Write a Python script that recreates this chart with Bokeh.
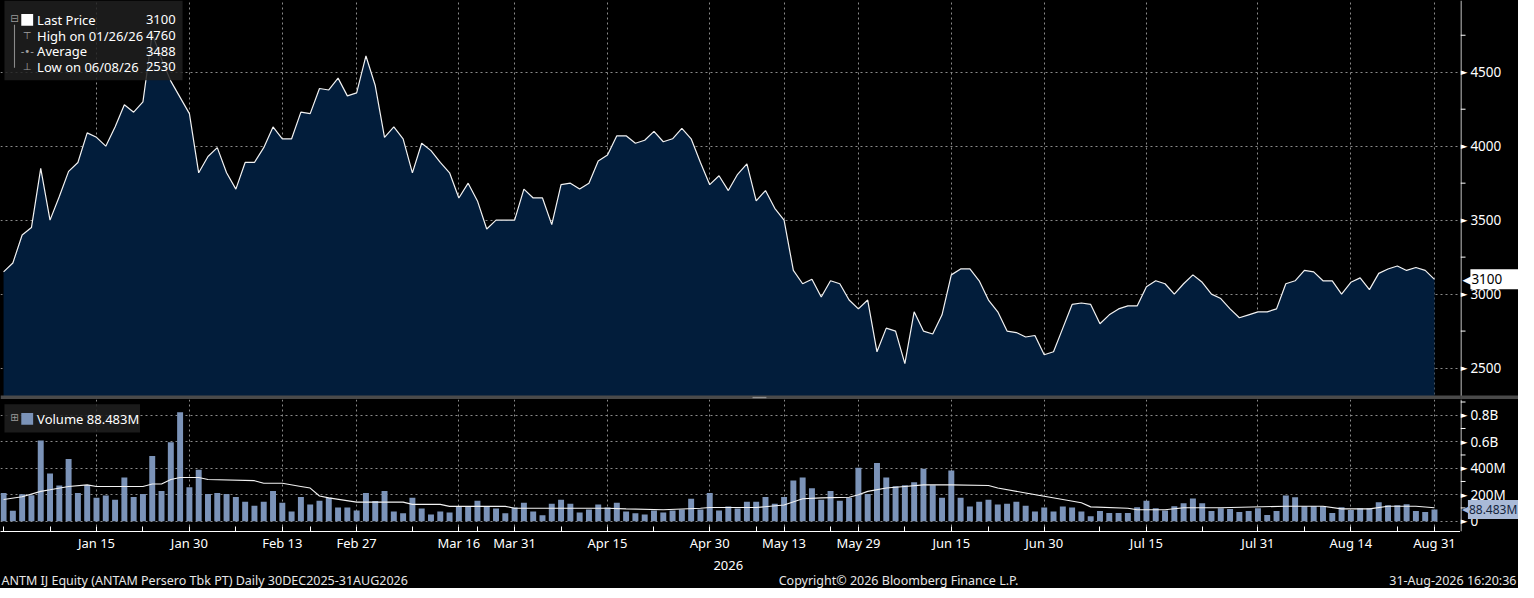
from bokeh.plotting import figure
from bokeh.layouts import column, row
from bokeh.models import Range1d, FixedTicker, Grid, Label, BoxAnnotation, LinearAxis, Span
from bokeh.core.properties import value
from bokeh.embed import file_html
from bokeh.resources import INLINE

# ---------------- data ----------------
price = [3150, 3210, 3400, 3450, 3850, 3500, 3660, 3830, 3890, 4090,
         4060, 4000, 4130, 4280, 4230, 4300, 4760, 4590, 4440, 4330,
         4220, 3820, 3930, 3990, 3820, 3710, 3890, 3890, 3990, 4130,
         4050, 4050, 4230, 4220, 4390, 4380, 4460, 4340, 4360, 4610,
         4410, 4060, 4130, 4050, 3820, 4020, 3970, 3890, 3820, 3650,
         3750, 3630, 3440, 3500, 3500, 3500, 3710, 3650, 3650, 3470,
         3740, 3750, 3710, 3750, 3900, 3940, 4070, 4070, 4020, 4040,
         4100, 4030, 4050, 4120, 4050, 3890, 3740, 3800, 3700, 3810,
         3880, 3630, 3700, 3580, 3500, 3160, 3070, 3100, 2980, 3090,
         3070, 2960, 2900, 2960, 2610, 2770, 2750, 2530, 2880, 2750,
         2730, 2860, 3130, 3170, 3170, 3090, 2960, 2880, 2750, 2740,
         2710, 2720, 2590, 2610, 2770, 2930, 2940, 2930, 2800, 2860,
         2900, 2920, 2920, 3050, 3090, 3070, 3000, 3070, 3130, 3080,
         3000, 2970, 2900, 2840, 2860, 2880, 2880, 2900, 3070, 3090,
         3160, 3150, 3090, 3090, 3000, 3080, 3110, 3030, 3140, 3170,
         3190, 3160, 3180, 3160, 3100]

volume_m = [213, 78, 203, 196, 609, 360, 269, 470, 213, 274,
            176, 193, 161, 330, 183, 205, 492, 227, 597, 822,
            257, 389, 205, 213, 205, 183, 147, 117, 147, 227,
            139, 73, 183, 125, 154, 176, 103, 103, 81, 213,
            152, 227, 73, 59, 176, 95, 51, 73, 66, 115,
            115, 154, 115, 95, 59, 103, 139, 73, 44, 132,
            161, 132, 66, 88, 125, 103, 139, 73, 59, 51,
            81, 66, 81, 88, 169, 88, 213, 81, 110, 95,
            147, 147, 183, 132, 183, 308, 330, 249, 161, 227,
            154, 176, 404, 205, 440, 330, 264, 271, 294, 396,
            271, 176, 382, 176, 110, 147, 161, 125, 132, 147,
            117, 73, 103, 73, 110, 103, 73, 37, 76, 61,
            61, 61, 106, 155, 98, 81, 113, 135, 172, 135,
            76, 98, 91, 69, 76, 98, 47, 76, 194, 180,
            113, 113, 113, 61, 106, 84, 98, 98, 143, 121,
            121, 128, 76, 69, 88.483]

vol_avg_idx = [0, 2, 4, 5, 7, 9, 10, 15, 16, 17, 18, 19, 21, 22, 27, 28, 30, 32,
               33, 34, 35, 38, 43, 44, 47, 48, 54, 55, 65, 67, 71, 75, 76, 81,
               84, 86, 88, 91, 92, 93, 95, 97, 99, 102, 106, 107, 110, 112, 116,
               117, 121, 122, 125, 127, 131, 138, 142, 144, 147, 149, 152, 154]
vol_avg_m = [164, 185, 225, 237, 262, 274, 262, 262, 281, 281, 315, 330, 330, 315,
             306, 286, 286, 262, 250, 190, 176, 144, 144, 127, 127, 112, 112, 98,
             98, 93, 86, 98, 103, 103, 122, 169, 176, 181, 200, 225, 250, 262,
             274, 274, 269, 250, 213, 188, 139, 108, 98, 86, 86, 101, 101, 113,
             113, 93, 93, 113, 113, 101]

date_tick_idx = [10, 20, 30, 38, 49, 55, 65, 76, 84, 92, 102, 112, 123, 135, 145, 154]
date_tick_labels = ["Jan 15", "Jan 30", "Feb 13", "Feb 27", "Mar 16", "Mar 31",
                    "Apr 15", "Apr 30", "May 13", "May 29", "Jun 15", "Jun 30",
                    "Jul 15", "Jul 31", "Aug 14", "Aug 31"]
minor_date_idx = [0, 5, 15, 25, 33, 44, 51, 60, 70, 81, 89, 97, 106, 118, 129, 140, 150]
year_tick_idx = [78]
year_labels = ["2026"]

price_ticks = [2500, 3000, 3500, 4000, 4500]
price_tick_labels = ["2500", "3000", "3500", "4000", "4500"]
price_minor_ticks = [2750, 3250, 3750, 4250, 4750]
vol_ticks_m = [0, 200, 400, 600, 800]
vol_tick_labels = ["0", "200M", "400M", "0.6B", "0.8B"]
vol_minor_m = [100, 300, 500, 700, 900]

legend_names = ["Last Price", "High on 01/26/26", "Average", "Low on 06/08/26"]
legend_values = ["3100", "4760", "3488", "2530"]
legend_icons = ["", "\u22a4", "-\u2022-", "\u22a5"]
last_price = 3100
last_price_text = "3100"
last_volume = 88.483
last_volume_text = "88.483M"
volume_legend_text = "Volume 88.483M"
footer_left = "ANTM IJ Equity (ANTAM Persero Tbk PT) Daily 30DEC2025-31AUG2026"
footer_mid = "Copyright\u00a9 2026 Bloomberg Finance L.P."
footer_right = "31-Aug-2026 16:20:36"

idx = list(range(len(price)))

# ---------------- style / layout ----------------
FONT = "Noto Sans"
BG = "black"
FILL = "#021d3b"
BAR = "#7b93b8"
TAG_VOL = "#a9bad8"
GRID = "#8a8a8a"
BANDC = "#4a4a4a"
W = 1518
AX_W = 58
FRAME_W = W - AX_W
PRICE_H = 399          # includes the 4px separator band at its bottom
VOL_H = 132
VOL_BOTTOM = 35
FOOT_H = 16
XS = 0.98957           # horizontal scale reference -> page

X0, X1 = -0.330, 156.80
P1 = 4984.9
P0 = P1 - 410 * 6.579
V1, V0 = 919.0, -78.0


def sx(px):           # reference px -> bar index
    return (px - 3.1) / 9.39


def sy_price(py):     # reference px -> price
    return P1 - py * 6.579


def sy_vol(py):       # reference px -> volume (M)
    return (535 - py) * 7.353


def ax_x(px):         # reference px -> x inside the axis strip
    return (px - 1475) * XS


xr = Range1d(X0, X1)
yr_price = Range1d(P0, P1)
yr_vol = Range1d(V0, V1)

# ---------------- price panel ----------------
p1 = figure(width=FRAME_W, height=PRICE_H, x_range=xr, y_range=yr_price,
            x_axis_location=None, y_axis_location=None, toolbar_location=None,
            output_backend="svg", background_fill_color=BG, border_fill_color=BG,
            outline_line_color=None, min_border=0)
p1.xgrid.visible = False
p1.ygrid.ticker = FixedTicker(ticks=price_ticks)
p1.ygrid.grid_line_color = GRID
p1.ygrid.grid_line_dash = "2 3"
p1.add_layout(Grid(dimension=0, ticker=FixedTicker(ticks=date_tick_idx),
                   grid_line_color=GRID, grid_line_dash="2 3"))

p1.varea(x=idx, y1=P0, y2=price, fill_color=FILL)
p1.line(x=idx, y=price, line_color="#f2f2f2", line_width=1.2)

# legend box (top-left)
p1.add_layout(BoxAnnotation(left=sx(4), right=sx(184), top=P1, bottom=sy_price(82),
                            fill_color="#202020", fill_alpha=0.85, line_color=None))
p1.add_layout(BoxAnnotation(left=sx(13.6), right=sx(14.7), top=sy_price(25), bottom=sy_price(69),
                            fill_color="#8a8a8a", fill_alpha=1, line_color=None))
p1.add_layout(BoxAnnotation(left=sx(21), right=sx(33), top=sy_price(14), bottom=sy_price(26),
                            fill_color="white", fill_alpha=1, line_color=None))
p1.add_layout(Label(x=sx(14), y=sy_price(19), text="\u229f", text_align="center",
                    text_baseline="middle", text_color="#9a9a9a", text_font="DejaVu Sans",
                    text_font_size="10px"))
for k, (name, val, icon) in enumerate(zip(legend_names, legend_values, legend_icons)):
    ry = 20 + 16 * k
    p1.add_layout(Label(x=sx(37), y=sy_price(ry), text=name, text_baseline="middle",
                        text_color="white", text_font=FONT, text_font_size="13px"))
    p1.add_layout(Label(x=sx(177), y=sy_price(ry), text=val, text_baseline="middle",
                        text_align="right", text_color="white", text_font=FONT,
                        text_font_size="13px"))
    if icon:
        p1.add_layout(Label(x=sx(27), y=sy_price(ry), text=icon, text_baseline="middle",
                            text_align="center", text_color="#a0a0a0", text_font="DejaVu Sans",
                            text_font_size="10px"))

# separator band at the bottom of the price panel
p1.add_layout(BoxAnnotation(bottom=P0, top=sy_price(406), fill_color=BANDC, fill_alpha=1,
                            line_color=None))
p1.add_layout(BoxAnnotation(left=sx(760), right=sx(774), top=sy_price(407.3),
                            bottom=sy_price(408.7), fill_color="#909090", fill_alpha=1,
                            line_color=None))

# ---------------- price axis strip ----------------
a1 = figure(width=AX_W, height=PRICE_H, x_range=Range1d(0, AX_W), y_range=yr_price,
            x_axis_location=None, y_axis_location=None, toolbar_location=None,
            output_backend="svg", background_fill_color=BG, border_fill_color=BG,
            outline_line_color=None, min_border=0)
a1.xgrid.visible = False
a1.ygrid.visible = False
a1.add_layout(Span(location=0.5, dimension="height", line_color="white", line_width=1))
a1.scatter(x=2.5, y=price_minor_ticks, marker="dash", size=5, line_color="white", line_width=1)
a1.text(x=0, y=price_ticks, text=["\u25ba"] * len(price_ticks), text_baseline="middle",
        text_align="left", text_color="white", text_font=value("DejaVu Sans"),
        text_font_size="9px")
a1.text(x=ax_x(1485), y=price_ticks, text=price_tick_labels, text_baseline="middle",
        text_align="left", text_color="white", text_font=value(FONT), text_font_size="13.5px")
a1.text(x=ax_x(1477), y=last_price, text=["\u25c0"], text_baseline="middle",
        text_align="left", text_color="white", text_font=value("DejaVu Sans"),
        text_font_size="13px")
a1.add_layout(Label(x=ax_x(1485), y=last_price, text=last_price_text + "      ",
                    text_baseline="middle", text_color="black", text_font=FONT,
                    text_font_size="13.5px", background_fill_color="white", padding=1))
a1.add_layout(BoxAnnotation(bottom=P0, top=sy_price(406), fill_color=BANDC, fill_alpha=1,
                            line_color=None))

# ---------------- volume panel ----------------
p2 = figure(frame_width=FRAME_W, frame_height=VOL_H, x_range=xr, y_range=yr_vol,
            x_axis_location="below", y_axis_location=None, toolbar_location=None,
            output_backend="svg", background_fill_color=BG, border_fill_color=BG,
            outline_line_color=None, min_border_left=0, min_border_top=0,
            min_border_right=0, min_border_bottom=VOL_BOTTOM)
p2.xgrid.visible = False
p2.ygrid.ticker = FixedTicker(ticks=vol_ticks_m)
p2.ygrid.grid_line_color = GRID
p2.ygrid.grid_line_dash = "2 3"
p2.add_layout(Grid(dimension=0, ticker=FixedTicker(ticks=date_tick_idx),
                   grid_line_color=GRID, grid_line_dash="2 3"))

xa = p2.xaxis[0]
xa.ticker = FixedTicker(ticks=sorted(date_tick_idx + minor_date_idx), minor_ticks=[])
overrides = {t: "" for t in minor_date_idx}
overrides.update({t: l for t, l in zip(date_tick_idx, date_tick_labels)})
xa.major_label_overrides = overrides
xa.axis_line_color = "white"
xa.major_tick_line_color = "white"
xa.major_tick_in = 5
xa.major_tick_out = 0
xa.minor_tick_line_color = None
xa.major_label_text_color = "white"
xa.major_label_text_font = FONT
xa.major_label_text_font_size = "13px"
xa.major_label_standoff = 2

ax2 = LinearAxis(ticker=FixedTicker(ticks=year_tick_idx, minor_ticks=[]),
                 major_label_overrides={t: l for t, l in zip(year_tick_idx, year_labels)},
                 axis_line_color=None, major_tick_line_color=None, minor_tick_line_color=None,
                 major_label_text_color="white", major_label_text_font=FONT,
                 major_label_text_font_size="13px", major_label_standoff=0)
p2.add_layout(ax2, "below")

p2.vbar(x=idx, top=volume_m, bottom=0, width=0.64, fill_color=BAR, line_color=None)
p2.line(x=vol_avg_idx, y=vol_avg_m, line_color="#f2f2f2", line_width=1.1)

# volume legend
p2.add_layout(BoxAnnotation(left=sx(4), right=sx(141), top=sy_vol(415), bottom=sy_vol(444),
                            fill_color="#202020", fill_alpha=0.85, line_color=None))
p2.add_layout(BoxAnnotation(left=sx(21), right=sx(33), top=sy_vol(424), bottom=sy_vol(436),
                            fill_color=BAR, fill_alpha=1, line_color=None))
p2.add_layout(Label(x=sx(14), y=sy_vol(429), text="\u229e", text_align="center",
                    text_baseline="middle", text_color="#9a9a9a", text_font="DejaVu Sans",
                    text_font_size="10px"))
p2.add_layout(Label(x=sx(37), y=sy_vol(430), text=volume_legend_text, text_baseline="middle",
                    text_color="white", text_font=FONT, text_font_size="13px"))

# ---------------- volume axis strip ----------------
a2 = figure(frame_width=AX_W, frame_height=VOL_H, x_range=Range1d(0, AX_W), y_range=yr_vol,
            x_axis_location=None, y_axis_location=None, toolbar_location=None,
            output_backend="svg", background_fill_color=BG, border_fill_color=BG,
            outline_line_color=None, min_border_left=0, min_border_top=0,
            min_border_right=0, min_border_bottom=VOL_BOTTOM)
a2.xgrid.visible = False
a2.ygrid.visible = False
a2.add_layout(Span(location=0.5, dimension="height", line_color="white", line_width=1))
a2.scatter(x=2.5, y=vol_minor_m, marker="dash", size=5, line_color="white", line_width=1)
a2.text(x=0, y=vol_ticks_m, text=["\u25ba"] * len(vol_ticks_m), text_baseline="middle",
        text_align="left", text_color="white", text_font=value("DejaVu Sans"),
        text_font_size="9px")
a2.text(x=ax_x(1485), y=vol_ticks_m, text=vol_tick_labels, text_baseline="middle",
        text_align="left", text_color="white", text_font=value(FONT), text_font_size="13.5px")
a2.text(x=ax_x(1476.5), y=last_volume, text=["\u25c0"], text_baseline="middle",
        text_align="left", text_color=TAG_VOL, text_font=value("DejaVu Sans"),
        text_font_size="12px")
a2.add_layout(Label(x=ax_x(1482.5), y=last_volume, text=last_volume_text,
                    text_baseline="middle", text_color="#15253d", text_font=FONT,
                    text_font_size="12px", background_fill_color=TAG_VOL, padding=1))

# ---------------- footer ----------------
foot = figure(width=W, height=FOOT_H, x_range=Range1d(0, W), y_range=Range1d(0, 1),
              x_axis_location=None, y_axis_location=None, toolbar_location=None,
              output_backend="svg", background_fill_color=BG, border_fill_color=BG,
              outline_line_color=None, min_border=0)
foot.xgrid.visible = False
foot.ygrid.visible = False
for txt, xx, al in [(footer_left, 1, "left"), (footer_mid, 898, "center"),
                    (footer_right, W - 2, "right")]:
    foot.add_layout(Label(x=xx, y=0.5, text=txt, text_align=al, text_baseline="middle",
                          text_color="#e6e6e6", text_font=FONT, text_font_size="12.5px"))

black_bg = {"background-color": "black"}
layout = column(row(p1, a1, styles=black_bg), row(p2, a2, styles=black_bg), foot,
                styles=black_bg)
open("out.html", "w").write(file_html(layout, INLINE))
